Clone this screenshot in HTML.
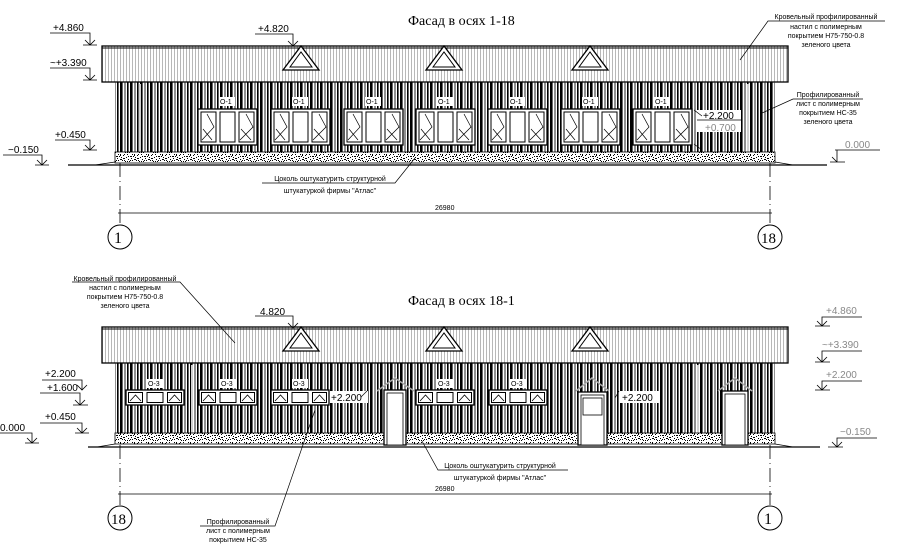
<!DOCTYPE html>
<html><head><meta charset="utf-8"><style>
html,body{margin:0;padding:0;background:#fff;}
svg{display:block;}
.t{font-family:"Liberation Sans","Noto Sans CJK SC",sans-serif;font-size:7px;fill:#000;}
.lv{font-family:"Liberation Sans",sans-serif;font-size:10px;fill:#000;}
.lg{font-family:"Liberation Sans",sans-serif;font-size:10px;fill:#888;}
.ti{font-family:"Liberation Serif","Noto Serif CJK SC",serif;font-size:14px;fill:#000;}
</style></head><body>
<svg width="900" height="545" viewBox="0 0 900 545" xmlns="http://www.w3.org/2000/svg">
<defs>
<pattern id="wall" width="10" height="10" patternUnits="userSpaceOnUse"><rect x="0" y="0" width="2.6" height="10" fill="#000"/><rect x="4.5" y="0" width="1" height="10" fill="#222"/><rect x="7" y="0" width="1.6" height="10" fill="#000"/></pattern>
<pattern id="roof" width="3" height="10" patternUnits="userSpaceOnUse"><rect x="0" y="0" width="0.7" height="10" fill="#999"/></pattern>
<pattern id="pl" width="14" height="9" patternUnits="userSpaceOnUse">
<rect width="14" height="9" fill="#fff"/>
<g fill="#000"><rect x="1" y="1" width="1" height="1"/><rect x="4" y="3" width="2" height="1"/><rect x="8" y="1" width="1" height="2"/><rect x="11" y="5" width="2" height="1"/><rect x="2" y="6" width="1" height="1"/><rect x="6" y="7" width="1" height="1"/><rect x="9" y="4" width="1" height="1"/><rect x="12" y="1" width="1" height="1"/><rect x="5" y="5" width="1" height="1"/><rect x="0" y="4" width="1" height="1"/><rect x="3" y="8" width="1" height="1"/><rect x="10" y="7" width="1" height="1"/><rect x="7" y="3" width="1" height="1"/><rect x="13" y="8" width="1" height="1"/><rect x="2" y="3" width="1" height="1"/><rect x="6" y="1" width="1" height="1"/><rect x="11" y="2" width="1" height="1"/><rect x="8" y="6" width="2" height="1"/><rect x="4" y="7" width="1" height="1"/><rect x="12" y="7" width="1" height="1"/><rect x="1" y="8" width="1" height="1"/></g></pattern>
<g id="w1">
<rect x="0" y="0" width="59" height="36" fill="#fff" stroke="#000" stroke-width="1.3"/>
<rect x="3" y="3" width="15" height="30" fill="#fff" stroke="#000"/>
<rect x="22" y="3" width="15" height="30" fill="#fff" stroke="#000"/>
<rect x="41" y="3" width="15" height="30" fill="#fff" stroke="#000"/>
<path d="M4 31 L16 18 L9 5 M5 20 L14 31 M42 31 L55 18 L48 5 M43 20 L53 31" fill="none" stroke="#000" stroke-width="0.7"/>
</g>
<g id="w3">
<rect x="0" y="0" width="58" height="15" fill="#fff" stroke="#000" stroke-width="1.3"/>
<rect x="2.5" y="2.5" width="14" height="10" fill="#fff" stroke="#000"/>
<rect x="21" y="2.5" width="16" height="10" fill="#fff" stroke="#000"/>
<rect x="41.5" y="2.5" width="14" height="10" fill="#fff" stroke="#000"/>
<path d="M4 11 L9.5 5 L15 11 M43 11 L48.5 5 L54 11" fill="none" stroke="#000" stroke-width="0.8"/>
</g>
<g id="tri"><path d="M0 24 L18 0 L36 24 Z" fill="#fff" stroke="#000" stroke-width="1.3"/><path d="M7 21 L18 6 L29 21 Z" fill="#fff" stroke="#000" stroke-width="1"/></g>
</defs>

<!-- ===== TOP FACADE ===== -->
<text class="ti" x="408" y="25">Фасад в осях 1-18</text>
<rect x="102" y="46" width="686" height="36" fill="url(#roof)" stroke="#000" stroke-width="1.3"/>
<line x1="102" y1="48" x2="788" y2="48" stroke="#000"/>
<rect x="115" y="82" width="660" height="70" fill="url(#wall)"/>
<line x1="140" y1="84" x2="140" y2="152" stroke="#fff" stroke-width="2"/><line x1="140" y1="84" x2="140" y2="152" stroke="#666" stroke-width="0.6"/>
<line x1="748" y1="84" x2="748" y2="152" stroke="#fff" stroke-width="2"/><line x1="748" y1="84" x2="748" y2="152" stroke="#666" stroke-width="0.6"/>
<use href="#tri" x="283" y="46"/><use href="#tri" x="426" y="46"/><use href="#tri" x="572" y="46"/>
<g>
<use href="#w1" x="198" y="109"/><use href="#w1" x="271" y="109"/><use href="#w1" x="344" y="109"/><use href="#w1" x="416" y="109"/><use href="#w1" x="488" y="109"/><use href="#w1" x="561" y="109"/><use href="#w1" x="633" y="109"/>
</g>
<g class="t">
<rect x="219" y="97" width="16" height="9" fill="#fff"/><text x="220" y="104">О-1</text>
<rect x="292" y="97" width="16" height="9" fill="#fff"/><text x="293" y="104">О-1</text>
<rect x="365" y="97" width="16" height="9" fill="#fff"/><text x="366" y="104">О-1</text>
<rect x="437" y="97" width="16" height="9" fill="#fff"/><text x="438" y="104">О-1</text>
<rect x="509" y="97" width="16" height="9" fill="#fff"/><text x="510" y="104">О-1</text>
<rect x="582" y="97" width="16" height="9" fill="#fff"/><text x="583" y="104">О-1</text>
<rect x="654" y="97" width="16" height="9" fill="#fff"/><text x="655" y="104">О-1</text>
</g>
<rect x="697" y="110" width="44" height="22" fill="#fff"/>
<line x1="697" y1="120" x2="741" y2="120" stroke="#000" stroke-width="0.8"/>
<text class="lv" x="703" y="119">+2.200</text><text class="lg" x="705" y="131">+0.700</text>
<path d="M694 110 L702 116 M694 144 L702 150" stroke="#000" stroke-width="0.7"/>
<rect x="115" y="152" width="660" height="11" fill="url(#pl)" stroke="#000" stroke-width="0.8"/>
<line x1="68" y1="165" x2="827" y2="165" stroke="#000" stroke-width="1.3"/>
<path d="M95 165 L115 162 M775 162 L793 165" stroke="#000" stroke-width="0.7"/>
<line x1="120" y1="163" x2="120" y2="225" stroke="#000" stroke-width="0.8" stroke-dasharray="14 4 1 4"/>
<line x1="770" y1="163" x2="770" y2="225" stroke="#000" stroke-width="0.8" stroke-dasharray="14 4 1 4"/>
<line x1="118" y1="213" x2="772" y2="213" stroke="#000" stroke-width="0.8"/>
<text class="t" x="435" y="210">26980</text>
<circle cx="120" cy="237" r="12" fill="#fff" stroke="#000"/><text x="114" y="243" font-family="Liberation Serif,serif" font-size="16">1</text>
<circle cx="770" cy="237" r="12" fill="#fff" stroke="#000"/><text x="761" y="243" font-family="Liberation Serif,serif" font-size="15">18</text>
<g stroke="#000" stroke-width="0.8" fill="none">
<path d="M50 33 L90 33 L90 45 M85 40 L90 45 L95 40 M83 45 L97 45"/>
<path d="M50 68 L90 68 L90 80 M85 75 L90 80 L95 75 M83 80 L97 80"/>
<path d="M55 140 L90 140 L90 150 M85 145 L90 150 L95 145 M83 150 L97 150"/>
<path d="M3 155 L42 155 L42 165 M37 160 L42 165 L47 160 M35 165 L49 165"/>
<path d="M255 34 L293 34 L293 46 M288 41 L293 46 L298 41"/>
<path d="M880 150 L835 150 M837 150 L837 162 M832 157 L837 162 M830 162 L845 162"/>
</g>
<g class="lv"><text x="53" y="31">+4.860</text><text x="50" y="66">~+3.390</text><text x="55" y="138">+0.450</text><text x="8" y="153">−0.150</text><text x="258" y="32">+4.820</text></g>
<text class="lg" x="845" y="148">0.000</text>
<g stroke="#000" stroke-width="0.7" fill="none">
<path d="M885 21 L768 21 L740 60"/><path d="M863 99 L793 99 L762 113"/><path d="M262 183 L395 183 L415 158"/>
</g>
<g class="t" text-anchor="middle">
<text x="826" y="19">Кровельный профилированный</text><text x="826" y="29">настил с полимерным</text><text x="826" y="38">покрытием Н75-750-0.8</text><text x="826" y="47">зеленого цвета</text>
<text x="828" y="97">Профилированный</text><text x="828" y="106">лист с полимерным</text><text x="828" y="115">покрытием НС-35</text><text x="828" y="124">зеленого цвета</text>
<text x="330" y="181">Цоколь оштукатурить структурной</text><text x="330" y="193">штукатуркой фирмы "Атлас"</text>
</g>

<!-- ===== BOTTOM FACADE ===== -->
<text class="ti" x="408" y="305">Фасад в осях 18-1</text>
<rect x="102" y="327" width="686" height="36" fill="url(#roof)" stroke="#000" stroke-width="1.3"/>
<line x1="102" y1="329" x2="788" y2="329" stroke="#000"/>
<rect x="115" y="363" width="660" height="70" fill="url(#wall)"/>
<line x1="192" y1="365" x2="192" y2="433" stroke="#fff" stroke-width="2"/><line x1="192" y1="365" x2="192" y2="433" stroke="#666" stroke-width="0.6"/>
<line x1="698" y1="365" x2="698" y2="433" stroke="#fff" stroke-width="2"/><line x1="698" y1="365" x2="698" y2="433" stroke="#666" stroke-width="0.6"/>
<use href="#tri" x="283" y="327"/><use href="#tri" x="426" y="327"/><use href="#tri" x="572" y="327"/>
<use href="#w3" x="126" y="390"/><use href="#w3" x="199" y="390"/><use href="#w3" x="271" y="390"/><use href="#w3" x="416" y="390"/><use href="#w3" x="489" y="390"/>
<g class="t">
<rect x="147" y="379" width="16" height="9" fill="#fff"/><text x="148" y="386">О-3</text>
<rect x="220" y="379" width="16" height="9" fill="#fff"/><text x="221" y="386">О-3</text>
<rect x="292" y="379" width="16" height="9" fill="#fff"/><text x="293" y="386">О-3</text>
<rect x="437" y="379" width="16" height="9" fill="#fff"/><text x="438" y="386">О-3</text>
<rect x="510" y="379" width="16" height="9" fill="#fff"/><text x="511" y="386">О-3</text>
</g>
<rect x="115" y="433" width="660" height="11" fill="url(#pl)" stroke="#000" stroke-width="0.8"/>
<g stroke="#000" fill="#fff">
<path d="M377 391 L395 378 L414 391" fill="none" stroke="#aaa" stroke-width="1.5"/>
<rect x="384" y="390" width="22" height="55" stroke-width="1.3"/><rect x="387" y="393" width="16" height="52" stroke-width="0.8"/>
<path d="M576 391 L592 378 L609 391" fill="none" stroke="#aaa" stroke-width="1.5"/>
<rect x="578" y="392" width="29" height="53" stroke-width="1.3"/><rect x="581" y="395" width="23" height="50" stroke-width="0.8"/><rect x="583" y="398" width="19" height="17" stroke-width="0.8"/>
<path d="M718 391 L735 378 L752 391" fill="none" stroke="#aaa" stroke-width="1.5"/>
<rect x="722" y="391" width="26" height="54" stroke-width="1.3"/><rect x="725" y="394" width="20" height="51" stroke-width="0.8"/>
</g>
<rect x="330" y="391" width="38" height="12" fill="#fff"/><text class="lv" x="331" y="401">+2.200</text>
<rect x="620" y="391" width="40" height="12" fill="#fff"/><text class="lv" x="622" y="401">+2.200</text>
<path d="M361 397 L367 391 M615 398 L619 391" stroke="#000" stroke-width="0.7"/>
<line x1="88" y1="447" x2="820" y2="447" stroke="#000" stroke-width="1.3"/>
<path d="M97 447 L115 444 M775 444 L793 447" stroke="#000" stroke-width="0.7"/>
<line x1="120" y1="445" x2="120" y2="506" stroke="#000" stroke-width="0.8" stroke-dasharray="14 4 1 4"/>
<line x1="770" y1="445" x2="770" y2="506" stroke="#000" stroke-width="0.8" stroke-dasharray="14 4 1 4"/>
<line x1="118" y1="494" x2="772" y2="494" stroke="#000" stroke-width="0.8"/>
<text class="t" x="435" y="491">26980</text>
<circle cx="120" cy="518" r="12" fill="#fff" stroke="#000"/><text x="111" y="524" font-family="Liberation Serif,serif" font-size="15">18</text>
<circle cx="770" cy="518" r="12" fill="#fff" stroke="#000"/><text x="764" y="524" font-family="Liberation Serif,serif" font-size="16">1</text>
<g stroke="#000" stroke-width="0.8" fill="none">
<path d="M42 380 L82 380 L82 390 M77 385 L82 390 L87 385"/>
<path d="M40 393 L80 393 L80 405 M75 400 L80 405 L85 400 M73 405 L88 405"/>
<path d="M40 423 L82 423 L82 433 M77 428 L82 433 L87 428 M75 433 L89 433"/>
<path d="M0 433 L32 433 L32 443 M27 438 L32 443 L37 438 M25 443 L39 443"/>
<path d="M255 316 L293 316 L293 328 M288 323 L293 328 L298 323"/>
<path d="M862 317 L822 317 L822 326 M817 321 L822 326 L827 321 M815 326 L830 326"/>
<path d="M862 351 L822 351 L822 362 M817 357 L822 362 L827 357 M815 362 L830 362"/>
<path d="M862 381 L822 381 L822 390 M817 385 L822 390 L827 385 M815 390 L830 390"/>
<path d="M877 438 L837 438 L837 447 M832 442 L837 447 L842 442 M828 447 L843 447"/>
</g>
<g class="lv"><text x="45" y="377">+2.200</text><text x="47" y="391">+1.600</text><text x="45" y="420">+0.450</text><text x="0" y="431">0.000</text><text x="260" y="315">4.820</text></g>
<g class="lg"><text x="826" y="314">+4.860</text><text x="822" y="348">~+3.390</text><text x="826" y="378">+2.200</text><text x="840" y="435">−0.150</text></g>
<g stroke="#000" stroke-width="0.7" fill="none">
<path d="M72 282 L180 282 L235 343"/><path d="M200 526 L275 526 L315 410"/><path d="M568 470 L438 470 L422 441"/>
</g>
<g class="t" text-anchor="middle">
<text x="125" y="281">Кровельный профилированный</text><text x="125" y="290">настил с полимерным</text><text x="125" y="299">покрытием Н75-750-0.8</text><text x="125" y="308">зеленого цвета</text>
<text x="238" y="524">Профилированный</text><text x="238" y="533">лист с полимерным</text><text x="238" y="542">покрытием НС-35</text>
<text x="500" y="468">Цоколь оштукатурить структурной</text><text x="500" y="480">штукатуркой фирмы "Атлас"</text>
</g>
</svg>
</body></html>
